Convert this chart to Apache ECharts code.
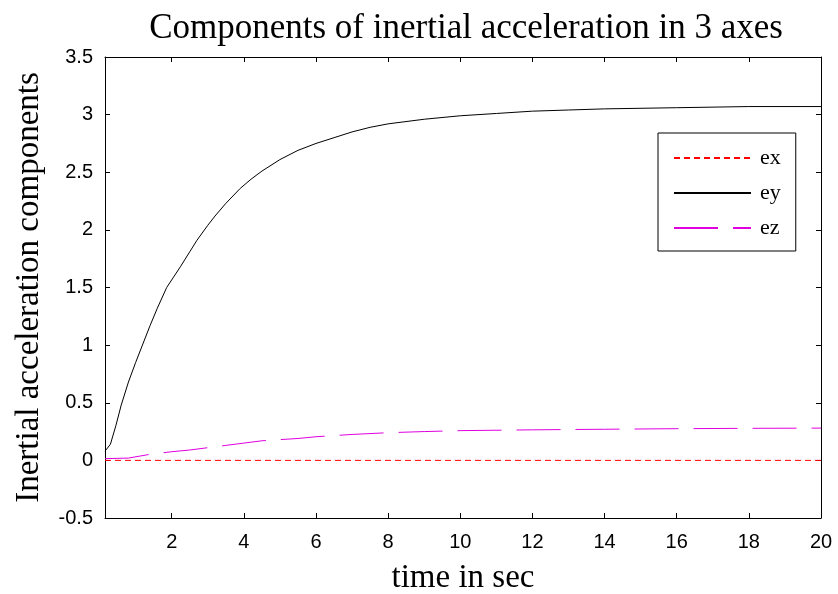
<!DOCTYPE html>
<html>
<head>
<meta charset="utf-8">
<script src="https://cdn.jsdelivr.net/npm/echarts@6/dist/echarts.min.js"></script>
<style>
html,body{margin:0;padding:0;background:#fff;}
#chart{width:838px;height:594px;}
</style>
</head>
<body>
<div id="chart"></div>
<script>
// time (s) and values
const eyT = [0.15, 0.3, 0.45, 0.6, 0.8, 1.0, 1.2, 1.4, 1.6, 1.86, 2.05, 2.24, 2.5, 2.7, 3.0, 3.2, 3.5, 3.9, 4.2, 4.5, 5.0, 5.5, 6.0, 6.5, 7.0, 7.5, 8.0, 9.0, 10.0, 11.0, 12.0, 13.0, 14.0, 16.0, 18.0, 20.0];
const eyV = [0.08, 0.14, 0.30, 0.48, 0.68, 0.85, 1.01, 1.17, 1.32, 1.50, 1.59, 1.68, 1.81, 1.91, 2.04, 2.12, 2.23, 2.36, 2.44, 2.51, 2.61, 2.69, 2.75, 2.80, 2.85, 2.89, 2.92, 2.96, 2.99, 3.01, 3.03, 3.04, 3.05, 3.06, 3.07, 3.07];
const ezT = [0.15, 0.8, 1.35, 2.0, 2.5, 3.0, 3.5, 4.0, 4.5, 5.0, 5.5, 6.0, 7.0, 8.0, 9.0, 10.0, 12.0, 14.0, 16.0, 18.0, 20.0];
const ezV = [0.015, 0.02, 0.05, 0.075, 0.09, 0.11, 0.13, 0.15, 0.17, 0.18, 0.19, 0.205, 0.225, 0.24, 0.25, 0.258, 0.265, 0.27, 0.275, 0.278, 0.28];
const exT = [0.15, 20.0];
const exV = [0, 0];
const seriesNames = ['ex', 'ey', 'ez'];
const titleText = 'Components of inertial acceleration in 3 axes';
const xName = 'time in sec';
const yName = 'Inertial acceleration components';

const zip = (a, b) => a.map((v, i) => [v, b[i]]);

const sansFont = 'Liberation Sans';
const serifFont = 'Liberation Serif';

const chart = echarts.init(document.getElementById('chart'), null, {renderer: 'canvas'});

const axisCommon = {
  axisLine: {show: true, onZero: false, lineStyle: {color: '#000', width: 1}},
  axisTick: {show: true, inside: true, length: 5, lineStyle: {color: '#000', width: 1}},
  splitLine: {show: false}
};

chart.setOption({
  animation: false,
  backgroundColor: '#fff',
  title: {
    text: titleText,
    left: 461,
    textAlign: 'center',
    top: 6,
    textStyle: {fontFamily: serifFont, fontSize: 35, fontWeight: 'normal', color: '#000'}
  },
  grid: {left: 105, right: 17, top: 57, bottom: 76, containLabel: false, outerBoundsMode: 'none'},
  legend: {
    data: seriesNames.map(n => ({name: n, itemStyle: {opacity: 0}})),
    orient: 'vertical',
    left: 658,
    top: 133,
    itemWidth: 77,
    itemHeight: 14,
    itemGap: 13,
    padding: [14, 15, 12, 15],
    borderColor: '#000',
    borderWidth: 1,
    backgroundColor: '#fff',
    textStyle: {fontFamily: serifFont, fontSize: 22, color: '#000', padding: [0, 0, 0, 4]}
  },
  xAxis: [
    Object.assign({}, axisCommon, {
      type: 'value', position: 'bottom', min: 0.15, max: 20, splitNumber: 10,
      name: xName, nameLocation: 'middle', nameGap: 44,
      nameTextStyle: {fontFamily: serifFont, fontSize: 33, color: '#000'},
      axisLabel: {show: true, showMinLabel: false, margin: 14, fontFamily: sansFont, fontSize: 20, color: '#000'}
    }),
    Object.assign({}, axisCommon, {
      type: 'value', position: 'top', min: 0.15, max: 20, splitNumber: 10,
      axisLabel: {show: false}
    })
  ],
  yAxis: [
    Object.assign({}, axisCommon, {
      type: 'value', position: 'left', min: -0.5, max: 3.5, interval: 0.5,
      name: yName, nameLocation: 'middle', nameGap: 59,
      nameTextStyle: {fontFamily: serifFont, fontSize: 33, color: '#000'},
      axisLabel: {show: true, margin: 12, fontFamily: sansFont, fontSize: 20, color: '#000'}
    }),
    Object.assign({}, axisCommon, {
      type: 'value', position: 'right', min: -0.5, max: 3.5, interval: 0.5,
      axisLabel: {show: false}
    })
  ],
  series: [
    {
      name: 'ex', type: 'line', symbol: 'none', data: zip(exT, exV),
      lineStyle: {color: '#ff0000', width: 1, type: [6, 4]}, itemStyle: {color: '#ff0000'}
    },
    {
      name: 'ey', type: 'line', symbol: 'none', data: zip(eyT, eyV),
      lineStyle: {color: '#000000', width: 1}, itemStyle: {color: '#000000'}
    },
    {
      name: 'ez', type: 'line', symbol: 'none', data: zip(ezT, ezV),
      lineStyle: {color: '#e000e0', width: 1, type: [44, 15]}, itemStyle: {color: '#e000e0'}
    }
  ]
});
</script>
</body>
</html>
